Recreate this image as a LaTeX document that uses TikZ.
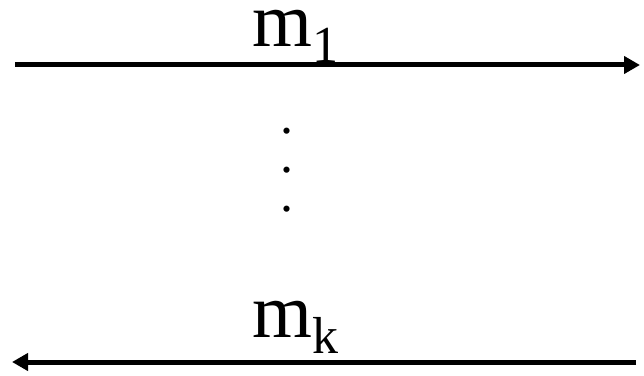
\documentclass[tikz,border=0pt]{standalone}
\usepackage{fontspec}
\setmainfont{Liberation Serif}
\usetikzlibrary{arrows.meta}

\begin{document}
\begin{tikzpicture}[x=1pt,y=1pt,
      msg/.style={line width=5pt,-{Triangle[length=16pt,width=17pt]}},
      lbl/.style={inner sep=0pt,anchor=base west,
                  font=\fontsize{77}{80}\selectfont},
      gapdots/.style={inner sep=0pt,align=center,
                      font=\fontsize{52}{39}\selectfont}]
    \useasboundingbox (0,0) rectangle (644,375);
    \newcommand{\msub}[1]{\raisebox{-16pt}{\fontsize{52}{56}\selectfont #1}}

    % first message, left to right
    \coordinate (send1) at (15,310);
    \coordinate (recv1) at (640,310);
    \draw[msg] (send1) -- (recv1);
    \node[lbl] (m1) at (252,328) {m\msub{1}};

    % gap
    \node[gapdots] (gap) at (287,205) {.\\.\\.};

    % last message, right to left
    \coordinate (sendk) at (636,13);
    \coordinate (recvk) at (12,13);
    \draw[msg] (sendk) -- (recvk);
    \node[lbl] (mk) at (252,38) {m\msub{k}};
  \end{tikzpicture}
\end{document}
